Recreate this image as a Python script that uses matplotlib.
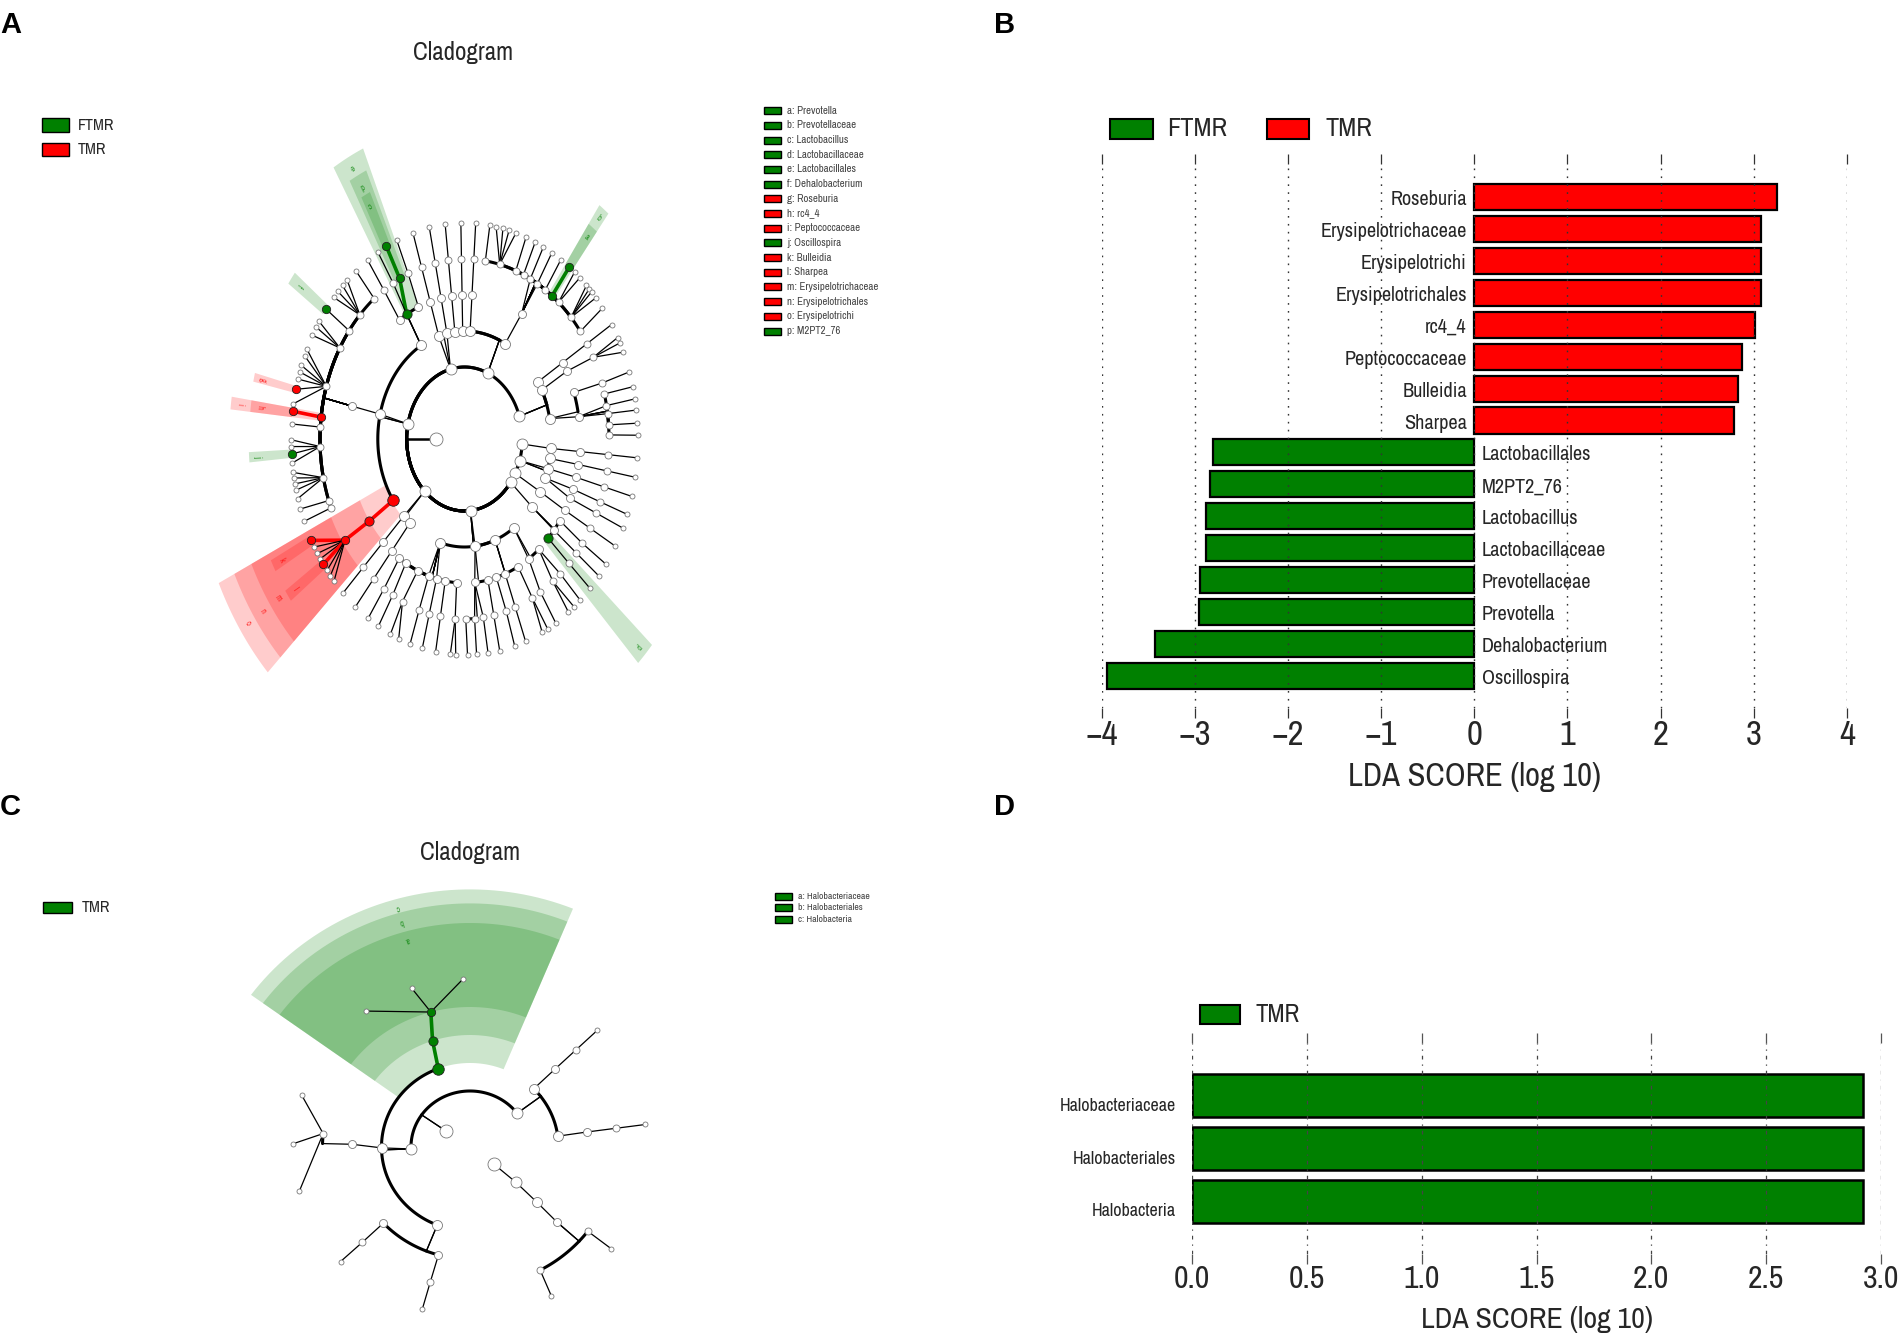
import matplotlib
matplotlib.use("Agg")
import matplotlib.pyplot as plt
from matplotlib.patches import Polygon, Rectangle
import numpy as np
import logging

logging.getLogger('matplotlib.font_manager').setLevel(logging.ERROR)
plt.rcParams['font.family'] = ['Archivo Narrow', 'Liberation Sans', 'DejaVu Sans']

W, H = 1901, 1340
GREEN = '#008000'
RED = '#ff0000'

# panel B
names_b = ['Roseburia', 'Erysipelotrichaceae', 'Erysipelotrichi', 'Erysipelotrichales', 'rc4_4',
           'Peptococcaceae', 'Bulleidia', 'Sharpea', 'Lactobacillales', 'M2PT2_76', 'Lactobacillus',
           'Lactobacillaceae', 'Prevotellaceae', 'Prevotella', 'Dehalobacterium', 'Oscillospira']
scores_b = [3.25, 3.08, 3.08, 3.08, 3.01, 2.87, 2.83, 2.79,
            -2.80, -2.84, -2.88, -2.88, -2.94, -2.95, -3.43, -3.94]
ticks_b = [-4, -3, -2, -1, 0, 1, 2, 3, 4]

# panel D
names_d = ['Halobacteriaceae', 'Halobacteriales', 'Halobacteria']
scores_d = [2.92, 2.92, 2.92]
ticks_d = [0.0, 0.5, 1.0, 1.5, 2.0, 2.5, 3.0]

# cladogram legends
legend_a = [('a: Prevotella', 'g'), ('b: Prevotellaceae', 'g'), ('c: Lactobacillus', 'g'),
            ('d: Lactobacillaceae', 'g'), ('e: Lactobacillales', 'g'), ('f: Dehalobacterium', 'g'),
            ('g: Roseburia', 'r'), ('h: rc4_4', 'r'), ('i: Peptococcaceae', 'r'), ('j: Oscillospira', 'g'),
            ('k: Bulleidia', 'r'), ('l: Sharpea', 'r'), ('m: Erysipelotrichaceae', 'r'),
            ('n: Erysipelotrichales', 'r'), ('o: Erysipelotrichi', 'r'), ('p: M2PT2_76', 'g')]
legend_c = [('a: Halobacteriaceae', 'g'), ('b: Halobacteriales', 'g'), ('c: Halobacteria', 'g')]


# tree nodes: angle in degrees, children, colour. depth gives the ring
def n(a, *kids, c=None):
    return (a, kids, c)


def ch(a, k):
    # k nodes in a row along the same angle
    node = n(a)
    for _ in range(k - 1):
        node = n(a, node)
    return node


def leaves(*angles):
    return [n(a) for a in angles]


firmicutes = n(168,
    n(120,
      n(124.2, ch(124, 2)),
      n(120, n(116.7, n(116.8, c='g'), c='g'), n(119.7, n(120)), c='g'),
      n(113.5, ch(113, 2))),
    n(166.7, n(166.8,
      n(128.7, n(128.8)),
      n(136.4, *leaves(132.6, 134.7, 136.9, 139)),
      n(143, n(143, c='g')),
      n(149.6, *leaves(147, 148.8, 151.3)),
      n(163, *leaves(155.4, 157.3, 160.1, 161.9, 163.9), n(166.7, c='r'), n(170.6)),
      n(173, n(172.6, c='r'), c='r'),
      n(176.2, n(176)),
      n(182.4, n(180.2), n(182), n(184, c='g'), n(186.4)),
      n(192.4, *leaves(188.9, 190.4, 192, 193.7, 196)),
      n(200, n(198.9)),
      n(202.5, n(202.4)))),
    n(214.6, n(214.7, n(214.2,
      n(208, c='r'), n(210), n(212), n(213.7), n(215.5, c='r'), n(217.5), n(219.3), n(221.2),
      c='r'), c='r'), c='r'))

phylum_104 = n(104, ch(107.3, 4), ch(101.7, 4), ch(96.4, 4))

phylum_66 = n(66.3, ch(91.2, 4), ch(86.3, 4),
    n(62, n(60.4,
      n(81.7, n(81.6)),
      n(75.9, *leaves(79.5, 77.2, 75.1, 72.7)),
      n(69.2, n(69.2)),
      n(65.9, n(65.9)),
      n(62.9, n(62.9)),
      n(59.7, n(59.7)),
      n(56, n(56.2)),
      n(52.7, n(52.8, c='g'), c='g'),
      n(49.4, *leaves(50.6, 48.3)),
      n(42.5, *leaves(45.3, 44, 42.9, 40.8)),
      n(36.7, n(37.3)))))

phylum_18 = n(18.4,
    ch(32, 4),
    n(27, n(28, n(27, *leaves(28, 26.4, 23.7)))),
    n(10.9,
      n(18.9, ch(18.1, 2)),
      n(8.9, n(14.5, n(14)), n(10.7, n(10.7)), n(8.1, n(7.7)), n(4.5, n(4.2)), n(1.3, n(1)))))

phylum_m4 = n(-4, ch(-5, 4))
phylum_m17 = n(-17.4,
    n(-10.4, ch(-10.2, 3)),
    n(-15.9, ch(-15.4, 3)),
    n(-21.2, n(-20.4, ch(-20.4, 2)), n(-24.3, ch(-24.3, 2))))
phylum_m29 = n(-28.6, n(-29.2, ch(-29.7, 3)))
phylum_m37 = n(-37, n(-38.9,
    n(-34.5, ch(-35.4, 2)),
    n(-39.3, ch(-39.3, 2)),
    n(-43.6, ch(-43.7, 2), c='g')))

phylum_m84 = n(-84,
    n(-55.3,
      n(-50, n(-48.5, n(-48.2)), n(-52.3, *leaves(-50.9, -53.2))),
      n(-56.3, ch(-58.3, 2))),
    n(-69.3,
      n(-62.4, n(-62, *leaves(-61.4, -63.4))),
      n(-69.4, ch(-69.4, 2)),
      n(-74, ch(-73.2, 2))),
    n(-83,
      n(-78.3, ch(-78.3, 2)),
      n(-84.9, n(-89.5, n(-89)), n(-86, n(-86)), n(-82.5, n(-82.2)))),
    n(-106.3,
      n(-124.3, ch(-123.8, 2)),
      n(-120.5, ch(-119.8, 2)),
      n(-113.9, n(-115.4, *leaves(-115.3, -112.3))),
      n(-108.1, ch(-108.3, 2)),
      n(-104, ch(-104.1, 2)),
      n(-99.6, ch(-99.6, 2)),
      n(-93.9, n(-93.7, *leaves(-94.7, -92.9)))))

phylum_m134 = n(-133.6, ch(-134.5, 4), ch(-129, 4))

tree_a = [n(180, firmicutes, phylum_104, phylum_66, phylum_18, phylum_m4, phylum_m17,
            phylum_m29, phylum_m37, phylum_m84, phylum_m134)]

tree_c = [n(145,
            n(182,
              n(111, n(108.5, n(105.4, *leaves(126, 109.2, 92.3), c='g'), c='g'), c='g'),
              n(180.6, n(178.6, n(174.5, *leaves(162, 178.9, 195.3)))),
              n(-111.7, n(-137.2, ch(-137, 2)), n(-105.5, ch(-105.6, 2)))),
            n(37,
              n(43.9, ch(44, 3)),
              n(7.4, ch(7.7, 3)))),
          n(-37, n(-39, n(-41, n(-42.3, n(-37, n(-37.2)), n(-61.6, n(-62.6))))))]

# shaded clades: from angle, to angle, inner ring, outer ring, colour, letter
shades_a = [(113.5, 121, 3.95, 8.8, 'g', 'e'), (114.5, 119, 5, 8.2, 'g', 'd'), (115.5, 118, 6, 7.6, 'g', 'c'),
            (51.5, 54.3, 5, 8, 'g', 'b'), (51.5, 54.3, 6, 7.36, 'g', 'a'),
            (141.8, 144.7, 6, 7.47, 'g', 'f'), (165.8, 167.7, 6, 7.48, 'r', 'g'),
            (171.7, 174.2, 5, 8.14, 'r', 'i'), (171.7, 174.2, 6, 7.45, 'r', 'h'),
            (182.8, 185, 6, 7.47, 'g', 'j'), (-46, -41.4, 3.95, 8.65, 'g', 'p'),
            (205.2, 223.6, 3.05, 9.4, 'r', 'o'), (205.2, 223.6, 4, 8.8, 'r', 'n'), (205.2, 223.6, 5.1, 8.15, 'r', 'm'),
            (206.7, 209.3, 6, 7.5, 'r', 'k'), (214.2, 216.8, 6, 7.5, 'r', 'l')]
shades_c = [(67.7, 143.8, 3, 9.2, 'g', 'c'), (67.7, 143.8, 4, 8.7, 'g', 'b'), (67.7, 143.8, 5, 8.0, 'g', 'a')]

COL = {'g': GREEN, 'r': RED}
NODE_DIAM = {1: 13, 2: 11, 3: 10, 4: 8, 5: 7, 6: 5}
TEXT = '#262626'


def xy(angle, rho):
    t = np.radians(angle)
    return rho * np.cos(t), rho * np.sin(t)


def draw_edge(ax, a0, r0, a1, r1, c):
    col = COL[c] if c else 'black'
    lw = 2.6 if c else 0.9
    delta = (a1 - a0 + 180) % 360 - 180
    if r1 >= 6 or abs(delta) < 3.5:
        x0, y0 = xy(a0, r0)
        x1, y1 = xy(a1, r1)
        ax.plot([x0, x1], [y0, y1], color=col, lw=lw, zorder=3, solid_capstyle='round')
    else:
        x0, y0 = xy(a0, r0)
        x1, y1 = xy(a0, r1)
        ax.plot([x0, x1], [y0, y1], color=col, lw=0.9, zorder=3)
        t = np.linspace(a0, a0 + delta, 60)
        xa, ya = xy(t, r1)
        ax.plot(xa, ya, color=col, lw=2.2, zorder=3, solid_capstyle='round')


def draw_tree(ax, node, rho=1):
    a, kids, c = node
    for kid in kids:
        # a branch takes the colour only when both of its ends have it
        draw_edge(ax, a, rho, kid[0], rho + 1, kid[2] if c else None)
        draw_tree(ax, kid, rho + 1)
    x, y = xy(a, rho)
    d = NODE_DIAM[rho] * 0.72
    if c:
        d = max(d * 1.15, 6)
    ax.scatter([x], [y], s=d * d, facecolor=COL[c] if c else 'white',
               edgecolor='#222222' if c else '#777777', linewidth=0.6, zorder=4)


def draw_shades(ax, shades, label_angle=None):
    for a0, a1, r0, r1, c, letter in shades:
        t = np.linspace(a0, a1, 50)
        xo, yo = xy(t, r1)
        xi, yi = xy(t[::-1], r0)
        ax.add_patch(Polygon(np.column_stack([np.r_[xo, xi], np.r_[yo, yi]]), closed=True,
                             facecolor=COL[c], edgecolor='none', alpha=0.2, zorder=1))
        mid = (a0 + a1) / 2 if label_angle is None else label_angle
        lx, ly = xy(mid, r1 - 0.32)
        ax.text(lx, ly, letter, color=COL[c], fontsize=6, ha='center', va='center',
                rotation=mid - 90 if -90 < mid < 90 else mid + 90, zorder=2, alpha=0.8)


def clado_axes(fig, cx, cy, sx, sy):
    # ten rings either way from the centre, sx/sy pixels per ring
    ax = fig.add_axes([(cx - 10 * sx) / W, 1 - (cy + 10 * sy) / H, 20 * sx / W, 20 * sy / H])
    ax.set_xlim(-10, 10)
    ax.set_ylim(-10, 10)
    ax.axis('off')
    return ax


def bar_axes(fig, left, right, top, bottom):
    ax = fig.add_axes([left / W, 1 - bottom / H, (right - left) / W, (bottom - top) / H])
    for s in ax.spines.values():
        s.set_visible(False)
    return ax


fig = plt.figure(figsize=(W / 100, H / 100), dpi=100, facecolor='white')

# A
ax_a = clado_axes(fig, 464.5, 439, 28.9, 36)
draw_shades(ax_a, shades_a)
for t in tree_a:
    draw_tree(ax_a, t)

# C
ax_c = clado_axes(fig, 470, 1147, 29.5, 28)
draw_shades(ax_c, shades_c, label_angle=106)
for t in tree_c:
    draw_tree(ax_c, t)

# B
ax_b = bar_axes(fig, 1101.6, 1847, 164.4, 707.5)
y_b = np.arange(len(names_b))[::-1]
ax_b.barh(y_b, scores_b, height=0.82, color=[RED if v > 0 else GREEN for v in scores_b],
          edgecolor='black', linewidth=1.6, zorder=2)
ax_b.set_xlim(-4, 4)
ax_b.set_ylim(-1.0, 16.03)
ax_b.set_yticks([])
ax_b.set_xticks(ticks_b)
ax_b.set_xticklabels([str(v).replace('-', '\u2212') for v in ticks_b], fontsize=25, color=TEXT)
ax_b.tick_params(axis='x', top=True, bottom=True, length=7.5, width=0.9, color='#333333', pad=1)
for v in ticks_b:
    ax_b.axvline(v, color='#333333', lw=1.0, ls=(0, (1.2, 4.5)), zorder=3)
for name, y, v in zip(names_b, y_b, scores_b):
    if v > 0:
        ax_b.text(-0.08, y - 0.08, name, ha='right', va='center', fontsize=14.6, color=TEXT, zorder=4)
    else:
        ax_b.text(0.08, y - 0.08, name, ha='left', va='center', fontsize=14.6, color=TEXT, zorder=4)
ax_b.set_xlabel('LDA SCORE (log 10)', fontsize=23.5, labelpad=8, color=TEXT)

# D
ax_d = bar_axes(fig, 1192, 1881, 1043, 1254)
y_d = np.arange(len(names_d))[::-1]
ax_d.barh(y_d, scores_d, height=0.82, color=GREEN, edgecolor='black', linewidth=1.8, zorder=2)
ax_d.set_xlim(0, 3)
ax_d.set_ylim(-1, 3)
ax_d.set_yticks([])
ax_d.set_xticks(ticks_d)
ax_d.set_xticklabels([f'{v:.1f}' for v in ticks_d], fontsize=23, color=TEXT)
ax_d.tick_params(axis='x', top=True, bottom=True, length=7, width=0.9, color='#555555', pad=1)
for v in ticks_d:
    ax_d.axvline(v, color='#444444', lw=0.9, ls=(0, (3, 4, 1, 4)), zorder=3)
for name, y in zip(names_d, y_d):
    ax_d.text(-0.07, y - 0.19, name, ha='right', va='center', fontsize=13, color=TEXT)
ax_d.set_xlabel('LDA SCORE (log 10)', fontsize=21.5, labelpad=9, color=TEXT)

# titles, legends and panel letters in pixel coordinates
page = fig.add_axes([0, 0, 1, 1], zorder=5)
page.set_xlim(0, W)
page.set_ylim(H, 0)
page.axis('off')


def swatch(x0, x1, y0, y1, color, lw=1.0):
    page.add_patch(Rectangle((x0, y0), x1 - x0, y1 - y0, facecolor=color, edgecolor='black', linewidth=lw))


page.text(463, 52, 'Cladogram', fontsize=18, ha='center', va='center', color=TEXT)
page.text(470, 852, 'Cladogram', fontsize=18, ha='center', va='center', color=TEXT)

for txt, x, y in [('A', 0, 33), ('B', 994, 33), ('C', 0, 815), ('D', 994, 815)]:
    page.text(x, y, txt, fontsize=21, fontweight='bold', family='Liberation Sans', ha='left', va='baseline')

swatch(41.5, 69, 117.5, 132, GREEN)
page.text(78, 125, 'FTMR', fontsize=11.5, va='center', color=TEXT)
swatch(41.5, 69, 143, 156, RED)
page.text(78, 150, 'TMR', fontsize=11.5, va='center', color=TEXT)
swatch(43, 72, 902, 913, GREEN)
page.text(82, 907.5, 'TMR', fontsize=11.5, va='center', color=TEXT)

for i, (txt, c) in enumerate(legend_a):
    y = 110.7 + i * 14.69
    swatch(763.5, 781, y - 3.5, y + 3.5, COL[c], lw=1.0)
    page.text(787, y, txt, fontsize=7.8, va='center', color='#444444')
for i, (txt, c) in enumerate(legend_c):
    y = 896.4 + i * 11.45
    swatch(775, 792, y - 3.5, y + 3.5, COL[c], lw=1.0)
    page.text(798, y, txt, fontsize=7, va='center', color='#444444')

swatch(1109.6, 1153, 119, 139, GREEN, lw=1.5)
page.text(1167.3, 129, 'FTMR', fontsize=19, va='center', color=TEXT)
swatch(1266.6, 1309.3, 119, 139, RED, lw=1.5)
page.text(1325, 129, 'TMR', fontsize=19, va='center', color=TEXT)
swatch(1200, 1240, 1005, 1024, GREEN, lw=1.5)
page.text(1255.6, 1014.7, 'TMR', fontsize=18, va='center', color=TEXT)

fig.savefig('out.png', dpi=100, facecolor='white')
